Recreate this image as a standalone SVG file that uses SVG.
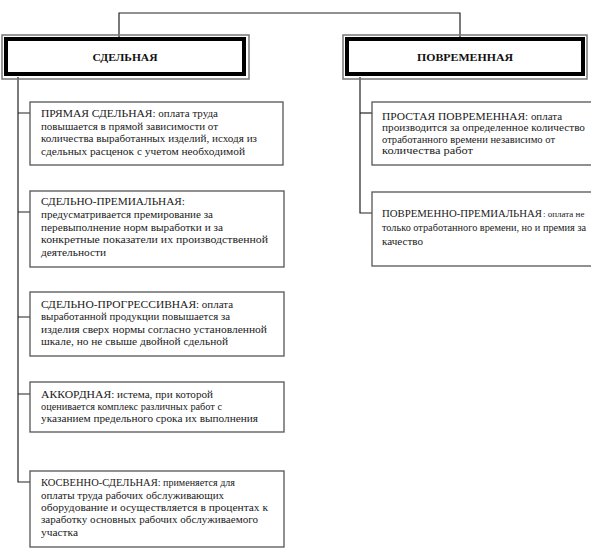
<svg xmlns="http://www.w3.org/2000/svg" width="591" height="554" viewBox="0 0 591 554">
<style>
.outer{fill:none;stroke:#777;stroke-width:1.5}
.inner{fill:#fff;stroke:#000;stroke-width:4}
.box{fill:#fff;stroke:#555;stroke-width:1.3}
.conn{fill:none;stroke:#222;stroke-width:1.2}
.title{font-weight:bold;font-size:11px;fill:#111;text-anchor:middle}
.t{font-size:11px;fill:#1a1a1a}
.s{font-size:10.5px}
.xs{font-size:9px}
</style>
<rect width="591" height="554" fill="#fff"/>
<g id="connectors">
<path class="conn" d="M119 37 V13 H460 V37"/>
<path class="conn" d="M18 77 V482 H30"/>
<path class="conn" d="M18 113 H30 M18 212 H30 M18 317 H30 M18 394 H30"/>
<path class="conn" d="M360 77 V213 H372"/>
<path class="conn" d="M360 113 H372"/>
</g>
<g font-family="'Liberation Serif', 'DejaVu Serif', serif">
<g id="n-sdelnaya">
<rect class="outer" x="2" y="35" width="247" height="44"/>
<rect class="inner" x="6" y="39" width="238" height="35"/>
<text class="title" x="125" y="61" textLength="65" lengthAdjust="spacingAndGlyphs">СДЕЛЬНАЯ</text>
</g>
<g id="n-povremennaya">
<rect class="outer" x="343" y="35" width="244" height="44"/>
<rect class="inner" x="347" y="39" width="236" height="35"/>
<text class="title" x="465" y="61" textLength="96" lengthAdjust="spacingAndGlyphs">ПОВРЕМЕННАЯ</text>
</g>
<g id="n-pryamaya">
<rect class="box" x="30" y="102" width="253" height="63"/>
<text class="t" x="41" y="117" textLength="177" lengthAdjust="spacingAndGlyphs">ПРЯМАЯ СДЕЛЬНАЯ<tspan class="s">: оплата труда</tspan></text>
<text class="t s" x="41" y="130" textLength="177" lengthAdjust="spacingAndGlyphs">повышается в прямой зависимости от</text>
<text class="t s" x="41" y="142" textLength="216" lengthAdjust="spacingAndGlyphs">количества выработанных  изделий, исходя из</text>
<text class="t s" x="41" y="155" textLength="204" lengthAdjust="spacingAndGlyphs">сдельных расценок с учетом необходимой</text>
</g>
<g id="n-premialnaya">
<rect class="box" x="30" y="191" width="254" height="76"/>
<text class="t" x="41" y="205" textLength="144" lengthAdjust="spacingAndGlyphs">СДЕЛЬНО-ПРЕМИАЛЬНАЯ:</text>
<text class="t s" x="41" y="218" textLength="172" lengthAdjust="spacingAndGlyphs">предусматривается премирование за</text>
<text class="t s" x="41" y="231" textLength="182" lengthAdjust="spacingAndGlyphs">перевыполнение норм выработки и за</text>
<text class="t s" x="41" y="243" textLength="227" lengthAdjust="spacingAndGlyphs">конкретные показатели их производственной</text>
<text class="t s" x="41" y="256" textLength="65" lengthAdjust="spacingAndGlyphs">деятельности</text>
</g>
<g id="n-progressivnaya">
<rect class="box" x="30" y="292" width="254" height="64"/>
<text class="t" x="41" y="308" textLength="192" lengthAdjust="spacingAndGlyphs">СДЕЛЬНО-ПРОГРЕССИВНАЯ<tspan class="s">: оплата</tspan></text>
<text class="t s" x="41" y="320" textLength="189" lengthAdjust="spacingAndGlyphs">выработанной продукции повышается за</text>
<text class="t s" x="41" y="333" textLength="226" lengthAdjust="spacingAndGlyphs">изделия сверх нормы согласно установленной</text>
<text class="t s" x="41" y="345" textLength="187" lengthAdjust="spacingAndGlyphs">шкале, но не свыше двойной сдельной</text>
</g>
<g id="n-akkordnaya">
<rect class="box" x="30" y="382" width="254" height="50"/>
<text class="t" x="41" y="398" textLength="172" lengthAdjust="spacingAndGlyphs">АККОРДНАЯ<tspan class="s">: истема, при которой</tspan></text>
<text class="t s" x="41" y="410" textLength="181" lengthAdjust="spacingAndGlyphs">оценивается комплекс различных работ с</text>
<text class="t s" x="41" y="422" textLength="217" lengthAdjust="spacingAndGlyphs">указанием предельного срока их выполнения</text>
</g>
<g id="n-kosvenno">
<rect class="box" x="30" y="471" width="254" height="76"/>
<text class="t" x="41" y="486" textLength="194" lengthAdjust="spacingAndGlyphs">КОСВЕННО-СДЕЛЬНАЯ<tspan class="s">: применяется для</tspan></text>
<text class="t s" x="41" y="499" textLength="183" lengthAdjust="spacingAndGlyphs">оплаты труда рабочих обслуживающих</text>
<text class="t s" x="41" y="511" textLength="227" lengthAdjust="spacingAndGlyphs">оборудование  и осуществляется в процентах к</text>
<text class="t s" x="41" y="523" textLength="217" lengthAdjust="spacingAndGlyphs">заработку основных рабочих обслуживаемого</text>
<text class="t s" x="41" y="536" textLength="37" lengthAdjust="spacingAndGlyphs">участка</text>
</g>
<g id="n-prostaya">
<rect class="box" x="372" y="102" width="230" height="63"/>
<text class="t" x="382" y="120" textLength="180" lengthAdjust="spacingAndGlyphs">ПРОСТАЯ ПОВРЕМЕННАЯ<tspan class="s">: оплата</tspan></text>
<text class="t s" x="382" y="131" textLength="203" lengthAdjust="spacingAndGlyphs">производится за определенное количество</text>
<text class="t s" x="382" y="143" textLength="173" lengthAdjust="spacingAndGlyphs">отработанного времени независимо от</text>
<text class="t s" x="382" y="154" textLength="91" lengthAdjust="spacingAndGlyphs">количества работ</text>
</g>
<g id="n-povr-prem">
<rect class="box" x="372" y="192" width="230" height="74"/>
<text class="t" x="382" y="217" textLength="160" lengthAdjust="spacingAndGlyphs">ПОВРЕМЕННО-ПРЕМИАЛЬНАЯ</text>
<text class="t xs" x="543" y="217">: оплата не</text>
<text class="t s" x="382" y="231" textLength="204" lengthAdjust="spacingAndGlyphs">только отработанного времени, но и премия за</text>
<text class="t s" x="382" y="245" textLength="41" lengthAdjust="spacingAndGlyphs">качество</text>
</g>
</g>
</svg>
